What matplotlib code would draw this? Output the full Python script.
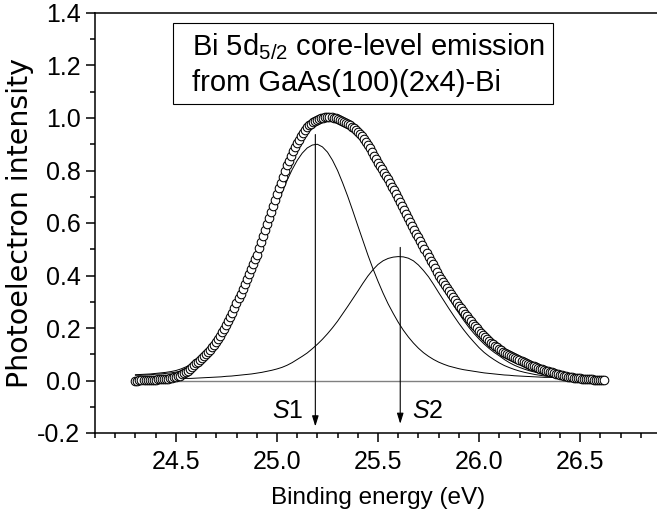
import numpy as np
import matplotlib
matplotlib.use("Agg")
import matplotlib.pyplot as plt
from matplotlib.patches import Rectangle
from matplotlib.ticker import FormatStrFormatter

plt.rcParams["font.family"] = ["Liberation Sans", "DejaVu Sans"]
plt.rcParams["mathtext.fontset"] = "custom"
plt.rcParams["mathtext.rm"] = "Liberation Sans"
plt.rcParams["mathtext.it"] = "Liberation Sans:italic"

# Bi 5d5/2 spectrum, 0.01 eV steps starting at 24.30 eV (one row = 0.1 eV)
intensity = [
    0.000, 0.000, 0.001, 0.001, 0.001, 0.001, 0.002, 0.002, 0.002, 0.003,
    0.003, 0.004, 0.004, 0.005, 0.006, 0.006, 0.007, 0.009, 0.010, 0.012,
    0.013, 0.016, 0.019, 0.023, 0.027, 0.032, 0.038, 0.045, 0.051, 0.058,
    0.065, 0.072, 0.079, 0.086, 0.093, 0.100, 0.109, 0.118, 0.127, 0.136,
    0.145, 0.157, 0.170, 0.183, 0.196, 0.210, 0.226, 0.242, 0.259, 0.277,
    0.295, 0.313, 0.331, 0.349, 0.367, 0.385, 0.404, 0.423, 0.442, 0.461,
    0.480, 0.503, 0.526, 0.549, 0.572, 0.595, 0.618, 0.641, 0.664, 0.687,
    0.710, 0.732, 0.754, 0.776, 0.798, 0.820, 0.838, 0.856, 0.873, 0.889,
    0.905, 0.918, 0.931, 0.943, 0.954, 0.964, 0.972, 0.979, 0.985, 0.990,
    0.994, 0.997, 0.999, 1.001, 1.002, 1.003, 1.003, 1.002, 1.001, 0.999,
    0.997, 0.994, 0.990, 0.986, 0.982, 0.978, 0.973, 0.967, 0.961, 0.954,
    0.947, 0.939, 0.930, 0.920, 0.909, 0.897, 0.884, 0.871, 0.857, 0.843,
    0.829, 0.817, 0.805, 0.792, 0.779, 0.766, 0.752, 0.738, 0.724, 0.710,
    0.696, 0.681, 0.666, 0.650, 0.635, 0.620, 0.605, 0.590, 0.575, 0.560,
    0.545, 0.530, 0.515, 0.500, 0.485, 0.470, 0.456, 0.442, 0.428, 0.414,
    0.400, 0.388, 0.376, 0.364, 0.352, 0.340, 0.329, 0.318, 0.307, 0.296,
    0.285, 0.275, 0.265, 0.255, 0.245, 0.235, 0.226, 0.217, 0.208, 0.199,
    0.190, 0.182, 0.174, 0.166, 0.158, 0.150, 0.144, 0.138, 0.132, 0.126,
    0.120, 0.115, 0.110, 0.106, 0.101, 0.097, 0.093, 0.089, 0.085, 0.082,
    0.078, 0.074, 0.071, 0.067, 0.064, 0.060, 0.057, 0.054, 0.051, 0.048,
    0.045, 0.043, 0.040, 0.038, 0.035, 0.033, 0.031, 0.028, 0.026, 0.024,
    0.022, 0.020, 0.019, 0.017, 0.015, 0.014, 0.013, 0.011, 0.010, 0.009,
    0.008, 0.007, 0.006, 0.005, 0.005, 0.004, 0.004, 0.003, 0.003, 0.002,
    0.002, 0.001, 0.001,
]
energy = np.round(24.30 + 0.01 * np.arange(len(intensity)), 2)

# fit curves, 0.025 eV steps starting at 24.30 eV (one row = 0.25 eV)
s1_fit = [
    0.020, 0.020, 0.021, 0.022, 0.024, 0.025, 0.027, 0.029, 0.032, 0.036,
    0.042, 0.050, 0.060, 0.074, 0.090, 0.110, 0.133, 0.160, 0.190, 0.228,
    0.268, 0.311, 0.356, 0.402, 0.450, 0.502, 0.555, 0.610, 0.665, 0.716,
    0.762, 0.803, 0.838, 0.866, 0.886, 0.897, 0.900, 0.890, 0.870, 0.839,
    0.800, 0.753, 0.702, 0.647, 0.590, 0.534, 0.478, 0.426, 0.378, 0.333,
    0.292, 0.256, 0.222, 0.192, 0.166, 0.143, 0.123, 0.106, 0.092, 0.080,
    0.070, 0.062, 0.055, 0.050, 0.045, 0.041, 0.038, 0.035, 0.032, 0.029,
    0.027, 0.025, 0.023, 0.021, 0.020, 0.018, 0.017, 0.016, 0.015, 0.014,
    0.013, 0.012, 0.012, 0.011, 0.011, 0.010, 0.010, 0.009, 0.009, 0.008,
    0.008, 0.007, 0.007,
]
s2_fit = [
    0.003, 0.003, 0.003, 0.003, 0.004, 0.004, 0.005, 0.005, 0.006, 0.007,
    0.008, 0.008, 0.009, 0.010, 0.011, 0.012, 0.013, 0.014, 0.016, 0.017,
    0.019, 0.021, 0.023, 0.025, 0.028, 0.031, 0.035, 0.039, 0.044, 0.050,
    0.058, 0.068, 0.080, 0.092, 0.105, 0.121, 0.138, 0.157, 0.178, 0.201,
    0.226, 0.254, 0.282, 0.311, 0.340, 0.370, 0.398, 0.422, 0.442, 0.456,
    0.465, 0.470, 0.472, 0.471, 0.466, 0.456, 0.440, 0.419, 0.395, 0.366,
    0.335, 0.305, 0.275, 0.246, 0.218, 0.192, 0.168, 0.146, 0.125, 0.107,
    0.092, 0.079, 0.067, 0.057, 0.049, 0.042, 0.036, 0.031, 0.027, 0.023,
    0.020, 0.017, 0.015, 0.013, 0.012, 0.011, 0.010, 0.009, 0.008, 0.008,
    0.007, 0.007, 0.006,
]
total_fit = [
    0.022, 0.023, 0.024, 0.025, 0.027, 0.029, 0.031, 0.034, 0.038, 0.044,
    0.052, 0.062, 0.075, 0.090, 0.108, 0.129, 0.152, 0.180, 0.212, 0.252,
    0.297, 0.342, 0.387, 0.433, 0.482, 0.538, 0.597, 0.654, 0.710, 0.765,
    0.818, 0.863, 0.902, 0.934, 0.960, 0.978, 0.990, 0.997, 1.000, 0.998,
    0.993, 0.984, 0.972, 0.958, 0.942, 0.919, 0.892, 0.860, 0.825, 0.793,
    0.760, 0.725, 0.688, 0.650, 0.612, 0.574, 0.535, 0.495, 0.455, 0.418,
    0.382, 0.348, 0.316, 0.285, 0.256, 0.228, 0.202, 0.179, 0.158, 0.139,
    0.122, 0.107, 0.094, 0.080, 0.068, 0.058, 0.050, 0.043, 0.037, 0.032,
    0.027, 0.023, 0.020, 0.017, 0.015, 0.013, 0.011, 0.009, 0.008, 0.007,
    0.006, 0.006, 0.005,
]
fit_energy = np.round(24.30 + 0.025 * np.arange(len(s1_fit)), 3)

background_energy = [24.30, 26.62]
background = [0.0, 0.0]

# component positions marked with arrows
peak_names = ["S1", "S2"]
peak_centers = [25.19, 25.61]
arrow_tops = [0.937, 0.507]
arrow_bottoms = [-0.175, -0.165]

fig = plt.figure(figsize=(6.57, 5.16), dpi=100)
# right edge of the frame sits just past the image border
ax = fig.add_axes([95 / 657, 83 / 516, 566 / 657, 420 / 516])

ax.plot(background_energy, background, color="#808080", lw=1.0, zorder=2)
ax.plot(fit_energy, s1_fit, color="k", lw=0.7, zorder=3)
ax.plot(fit_energy, s2_fit, color="k", lw=0.7, zorder=3)
ax.plot(fit_energy, total_fit, color="k", lw=0.7, zorder=3)
ax.plot(energy, intensity, ls="none", marker="o", ms=6.2, mfc="white",
        mec="k", mew=0.75, zorder=4)

for name, xc, top, bot, side in zip(peak_names, peak_centers, arrow_tops,
                                    arrow_bottoms, [-1, 1]):
    ax.annotate("", xy=(xc, bot), xytext=(xc, top),
                arrowprops=dict(arrowstyle="-|>,head_width=0.14,head_length=0.45",
                                lw=0.8, color="k", mutation_scale=14,
                                shrinkA=0, shrinkB=0), zorder=5)
    ax.text(xc + side * 0.06, -0.141, "$\\mathit{S}$" + name[1:],
            ha="right" if side < 0 else "left", va="baseline", fontsize=18)

ax.set_xlim(24.1, 26.9)
ax.set_ylim(-0.2, 1.4)
ax.set_xticks([24.5, 25.0, 25.5, 26.0, 26.5])
ax.set_xticks(np.arange(24.1, 26.95, 0.1), minor=True)
ax.set_yticks(np.arange(-0.2, 1.41, 0.2))
ax.set_yticks(np.arange(-0.1, 1.4, 0.2), minor=True)
ax.xaxis.set_major_formatter(FormatStrFormatter("%.1f"))
ax.yaxis.set_major_formatter(FormatStrFormatter("%.1f"))
ax.tick_params(which="major", direction="out", length=6.5, width=1.1,
               labelsize=18, pad=4)
ax.tick_params(axis="x", which="major", pad=6)
ax.tick_params(which="minor", direction="out", length=3.6, width=1.1)
for sp in ax.spines.values():
    sp.set_linewidth(1.1)

ax.set_xlabel("Binding energy (eV)", fontsize=17.5, labelpad=9)
ax.set_ylabel("Photoelectron intensity", fontsize=20.5,
              family=["DejaVu Sans"])
ax.yaxis.set_label_coords(-0.108, 0.5)

fig.add_artist(Rectangle((173 / 657, 1 - 104 / 516), 380 / 657, 81 / 516,
                         transform=fig.transFigure, fill=False,
                         edgecolor="k", lw=0.8))
fig.text(192 / 657, 1 - 55 / 516, "Bi 5d$_{5/2}$ core-level emission",
         fontsize=21, va="baseline")
fig.text(192 / 657, 1 - 91 / 516, "from GaAs(100)(2x4)-Bi",
         fontsize=21, va="baseline")

fig.savefig("out.png", dpi=100)
